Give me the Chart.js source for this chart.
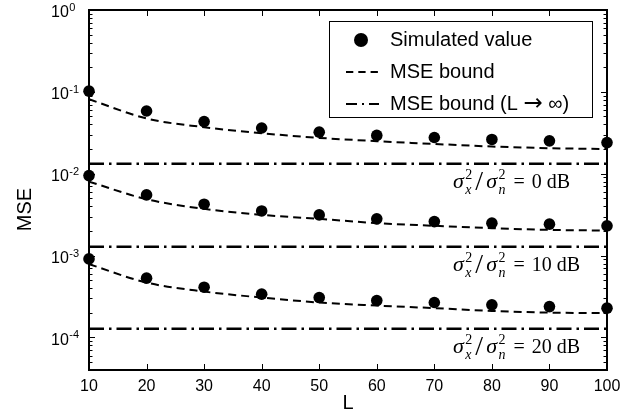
<!DOCTYPE html>
<html>
<head>
<meta charset="utf-8">
<title>MSE versus L</title>
<script src="https://cdn.jsdelivr.net/npm/chart.js@4.4.1/dist/chart.umd.min.js"></script>
<style>
  html, body { margin: 0; padding: 0; background: #fff; }
  canvas { display: block; }
</style>
</head>
<body>
<canvas id="mse" width="639" height="419"></canvas>
<script>
// Block length L (horizontal axis)
const blockLengths = [10, 20, 30, 40, 50, 60, 70, 80, 90, 100];

// Simulated MSE for each SNR
const simulated0dB  = [0.102, 0.0584, 0.0433, 0.0362, 0.0322, 0.0294, 0.0277, 0.0262, 0.0252, 0.0240];
const simulated10dB = [0.00948, 0.00551, 0.00424, 0.00351, 0.00314, 0.00281, 0.00260, 0.00249, 0.00242, 0.00231];
const simulated20dB = [0.000911, 0.000530, 0.000411, 0.000338, 0.000307, 0.000282, 0.000267, 0.000250, 0.000238, 0.000228];

// MSE bound for finite L
const bound0dB  = [0.0812, 0.0473, 0.0370, 0.0312, 0.0274, 0.0250, 0.0231, 0.0215, 0.0205, 0.0200];
const bound10dB = [0.00801, 0.00488, 0.00372, 0.00314, 0.00281, 0.00249, 0.00231, 0.00216, 0.00206, 0.00202];
const bound20dB = [0.000785, 0.000468, 0.000363, 0.000307, 0.000267, 0.000245, 0.000228, 0.000211, 0.000201, 0.000198];

// MSE bound as L -> infinity, one level per SNR
const asymptoticBounds = [0.0132, 0.00128, 0.000128];
const snrLabels = ['0 dB', '10 dB', '20 dB'];

// Axis ticks
const xTicks = [10, 20, 30, 40, 50, 60, 70, 80, 90, 100];
const yMajorTicks = [1, 0.1, 0.01, 0.001, 0.0001];
const yTickExponents = ['0', '-1', '-2', '-3', '-4'];
const yMin = 4e-5;
const yMax = 1;

// Legend entries
const legendLabels = ['Simulated value', 'MSE bound', 'MSE bound (L \u2192 \u221E)'];

const SANS = "'Liberation Sans', Arial, Helvetica, sans-serif";
const SERIF = "'Liberation Serif', 'Times New Roman', Times, serif";
const ARROW_FONT = "'DejaVu Sans', sans-serif";
const DASH = [8, 5];
const DASH_DOT = [15, 5, 2.5, 5];

// minor ticks at 1..9 x 10^k inside the axis range
const yTickPositions = [];
for (let e = -5; e <= 0; e++) {
  for (let m = 1; m <= 9; m++) {
    const v = m * Math.pow(10, e);
    if (v >= yMin * 0.999 && v <= yMax * 1.001) yTickPositions.push(v);
  }
}

const toPoints = ys => blockLengths.map((x, i) => ({ x, y: ys[i] }));

const datasets = [];
[simulated0dB, simulated10dB, simulated20dB].forEach(ys => datasets.push({
  label: legendLabels[0],
  data: toPoints(ys),
  showLine: false,
  pointRadius: 5.8,
  pointHoverRadius: 5.8,
  pointBorderWidth: 0,
  pointBackgroundColor: '#000',
  pointBorderColor: '#000',
  borderColor: '#000',
  clip: false
}));
[bound0dB, bound10dB, bound20dB].forEach(ys => datasets.push({
  label: legendLabels[1],
  data: toPoints(ys),
  borderColor: '#000',
  borderWidth: 2,
  borderDash: DASH,
  pointRadius: 0,
  cubicInterpolationMode: 'monotone',
  fill: false
}));
asymptoticBounds.forEach(v => datasets.push({
  label: legendLabels[2],
  data: [{ x: blockLengths[0], y: v }, { x: blockLengths[blockLengths.length - 1], y: v }],
  borderColor: '#000',
  borderWidth: 2.5,
  borderDash: DASH_DOT,
  pointRadius: 0,
  fill: false
}));

// sigma_x^2 / sigma_n^2 = ... dB
function drawSnrLabel(ctx, x, baseline, db) {
  ctx.save();
  ctx.fillStyle = '#000';
  ctx.textAlign = 'left';
  ctx.textBaseline = 'alphabetic';
  const sigmaPart = sub => {
    ctx.font = 'italic 22px ' + SERIF;
    ctx.fillText('\u03C3', x, baseline);
    x += ctx.measureText('\u03C3').width + 1.5;
    ctx.font = '14px ' + SERIF;
    const w2 = ctx.measureText('2').width;
    ctx.fillText('2', x, baseline - 8.5);
    ctx.font = 'italic 14px ' + SERIF;
    const ws = ctx.measureText(sub).width;
    ctx.fillText(sub, x, baseline + 6.5);
    x += Math.max(w2, ws);
  };
  sigmaPart('x');
  x += 3;
  ctx.font = '28px ' + SERIF;
  ctx.fillText('/', x, baseline + 2);
  x += ctx.measureText('/').width + 3;
  sigmaPart('n');
  x += 8;
  ctx.font = '20px ' + SERIF;
  ctx.fillText('=', x, baseline);
  x += ctx.measureText('=').width + 7;
  ctx.fillText(db, x, baseline);
  ctx.restore();
}

// legend text, with a wider arrow glyph where the label has one
function drawLegendText(ctx, text, x, y) {
  const parts = text.split('\u2192');
  parts.forEach((part, i) => {
    ctx.font = '20px ' + SANS;
    ctx.fillText(part, x, y);
    x += ctx.measureText(part).width;
    if (i < parts.length - 1) {
      ctx.font = '23px ' + ARROW_FONT;
      ctx.fillText('\u2192', x, y);
      x += ctx.measureText('\u2192').width;
    }
  });
}

const decorations = {
  id: 'decorations',
  afterDraw(chart) {
    const { ctx, chartArea: a, scales: { x: xs, y: ys } } = chart;
    ctx.save();

    // inward tick marks on all four sides
    ctx.strokeStyle = '#000';
    ctx.lineWidth = 1;
    ctx.setLineDash([]);
    ctx.beginPath();
    ys.ticks.forEach(t => {
      const py = Math.round(ys.getPixelForValue(t.value)) + 0.5;
      const major = yMajorTicks.some(m => Math.abs(Math.log10(t.value) - Math.log10(m)) < 1e-6);
      const len = major ? 6 : 3.5;
      ctx.moveTo(a.left, py); ctx.lineTo(a.left + len, py);
      ctx.moveTo(a.right, py); ctx.lineTo(a.right - len, py);
    });
    xs.ticks.forEach(t => {
      const px = Math.round(xs.getPixelForValue(t.value)) + 0.5;
      ctx.moveTo(px, a.bottom); ctx.lineTo(px, a.bottom - 6);
      ctx.moveTo(px, a.top); ctx.lineTo(px, a.top + 6);
    });
    ctx.stroke();

    // plot frame
    ctx.lineWidth = 2;
    ctx.strokeRect(a.left, a.top, a.right - a.left, a.bottom - a.top);

    // y tick labels: 10 with a raised exponent
    ctx.fillStyle = '#000';
    ctx.textAlign = 'left';
    ctx.textBaseline = 'middle';
    yMajorTicks.forEach((v, i) => {
      const py = ys.getPixelForValue(v);
      ctx.font = '16px ' + SANS;
      ctx.fillText('10', 51, py + 3);
      const w = ctx.measureText('10').width;
      ctx.font = '11px ' + SANS;
      ctx.fillText(yTickExponents[i], 51 + w + 0.5, py - 2);
    });

    // y axis title, centred on the figure height
    ctx.save();
    ctx.translate(25, chart.height / 2);
    ctx.rotate(-Math.PI / 2);
    ctx.textAlign = 'center';
    ctx.textBaseline = 'middle';
    ctx.font = '20px ' + SANS;
    ctx.fillText('MSE', 0, 0);
    ctx.restore();

    // SNR labels under each asymptote
    asymptoticBounds.forEach((v, i) => {
      drawSnrLabel(ctx, 453, ys.getPixelForValue(v) + 24, snrLabels[i]);
    });

    // legend
    const bx = 329.5, by = 21.5, bw = 263, bh = 96;
    ctx.fillStyle = '#fff';
    ctx.fillRect(bx, by, bw, bh);
    ctx.lineWidth = 1;
    ctx.strokeStyle = '#000';
    ctx.strokeRect(bx, by, bw, bh);
    const rows = [40, 72, 104];
    ctx.fillStyle = '#000';
    ctx.textAlign = 'left';
    ctx.textBaseline = 'middle';
    // marker
    ctx.beginPath();
    ctx.arc(361, rows[0], 7, 0, Math.PI * 2);
    ctx.fill();
    // dashed sample
    ctx.lineWidth = 2;
    ctx.setLineDash([7.3, 5]);
    ctx.beginPath();
    ctx.moveTo(346, rows[1]); ctx.lineTo(379, rows[1]);
    ctx.stroke();
    // dash-dot sample
    ctx.setLineDash([11, 5, 2, 5]);
    ctx.beginPath();
    ctx.moveTo(346, rows[2]); ctx.lineTo(379, rows[2]);
    ctx.stroke();
    ctx.setLineDash([]);
    legendLabels.forEach((lab, i) => drawLegendText(ctx, lab, 390, rows[i]));

    ctx.restore();
  }
};

new Chart(document.getElementById('mse'), {
  type: 'line',
  data: { datasets },
  options: {
    responsive: false,
    animation: false,
    events: [],
    layout: { padding: { left: 0, right: 32, top: 10, bottom: 0 } },
    plugins: { legend: { display: false }, tooltip: { enabled: false } },
    scales: {
      x: {
        type: 'linear',
        min: 10,
        max: 100,
        afterBuildTicks: s => { s.ticks = xTicks.map(v => ({ value: v })); },
        afterFit: s => { s.height = 49; },
        grid: { display: false, drawTicks: false },
        border: { display: false },
        ticks: {
          color: '#000',
          font: { family: SANS, size: 16 },
          padding: 7,
          maxRotation: 0,
          autoSkip: false
        },
        title: {
          display: true,
          text: 'L',
          color: '#000',
          font: { family: SANS, size: 20 },
          padding: { top: 0, bottom: 3.5 }
        }
      },
      y: {
        type: 'logarithmic',
        min: yMin,
        max: yMax,
        afterBuildTicks: s => { s.ticks = yTickPositions.map(v => ({ value: v })); },
        afterFit: s => { s.width = 89; },
        grid: { display: false, drawTicks: false },
        border: { display: false },
        ticks: { display: false }
      }
    }
  },
  plugins: [decorations]
});
</script>
</body>
</html>
